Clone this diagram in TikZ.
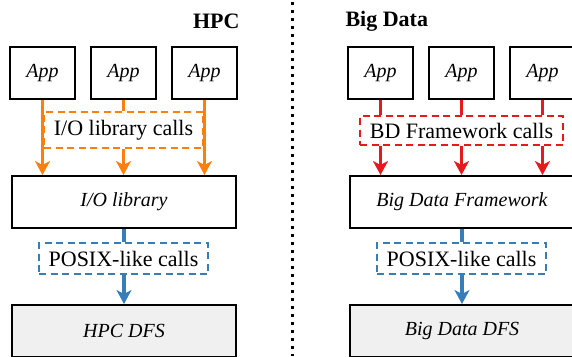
\documentclass[tikz,border=0pt]{standalone}
\usepackage{fontspec}
\setmainfont{Liberation Serif}
\usetikzlibrary{arrows.meta}
\definecolor{corange}{HTML}{FF7F0E}
\definecolor{cred}{HTML}{E41A1C}
\definecolor{cblue}{HTML}{377EB8}
\definecolor{cgray}{HTML}{F0F0F0}
\tikzset{
  solidbox/.style={draw=black, line width=2pt, minimum width=65pt, minimum height=52pt, inner sep=0pt, font=\fontsize{20}{24}\selectfont\itshape},
  widebox/.style={solidbox, minimum width=224pt},
  callbox/.style={draw=#1, line width=2pt, dash pattern=on 7pt off 4.5pt, inner sep=0pt, font=\fontsize{22}{26}\selectfont},
  conn/.style={draw=#1, line width=3.5pt},
  arr/.style={conn=#1, -{Stealth[length=14pt,width=15pt,inset=4pt]}},
  title/.style={font=\fontsize{22}{26}\selectfont\bfseries},
}
\begin{document}
\begin{tikzpicture}[x=1pt,y=-1pt]
\clip (0,0) rectangle (572,356);
\useasboundingbox (0,0) rectangle (572,356);
% separator
\draw[line width=3pt, dash pattern=on 3pt off 5pt] (292,2) -- (292,356);
% ---------- HPC ----------
\node[title, anchor=east] (hpc) at (243,21) {HPC};
\node[solidbox] (a1) at (42.5,73) {App};
\node[solidbox] (a2) at (123.5,73) {App};
\node[solidbox] (a3) at (204.5,73) {App};
\node[callbox=corange, minimum width=159pt, minimum height=36pt] (ioc) at (123.5,130) {I/O library calls};
\node[widebox] (iol) at (124,202) {I/O library};
\node[callbox=cblue, minimum width=169pt, minimum height=31pt] (px1) at (123.5,258.5) {POSIX-like calls};
\node[widebox, fill=cgray] (hdfs) at (124,331) {HPC DFS};
\draw[arr=corange] (a1.south) -- (a1.south |- iol.north);
\draw[arr=corange] (a3.south) -- (a3.south |- iol.north);
\draw[conn=corange] (a2.south) -- (a2.south |- ioc.north);
\draw[arr=corange] (a2.south |- ioc.south) -- (a2.south |- iol.north);
\draw[conn=cblue] (iol.south) -- (iol.south |- px1.north);
\draw[arr=cblue] (iol.south |- px1.south) -- (hdfs.north);
% ---------- Big Data ----------
\node[title, anchor=west] (bd) at (342,21) {Big Data};
\node[solidbox] (b1) at (380.5,73) {App};
\node[solidbox] (b2) at (461.5,73) {App};
\node[solidbox] (b3) at (542.5,73) {App};
\node[callbox=cred, minimum width=203pt, minimum height=29pt] (bdc) at (461.5,130.5) {BD Framework calls};
\node[widebox] (bdf) at (462,202) {Big Data Framework};
\node[callbox=cblue, minimum width=169pt, minimum height=31pt] (px2) at (461.5,258.5) {POSIX-like calls};
\node[widebox, fill=cgray] (bdfs) at (462,331) {Big Data DFS};
\foreach \b in {b1,b2,b3}{
  \draw[conn=cred] (\b.south) -- (\b.south |- bdc.north);
  \draw[arr=cred] (\b.south |- bdc.south) -- (\b.south |- bdf.north);
}
\draw[conn=cblue] (bdf.south) -- (bdf.south |- px2.north);
\draw[arr=cblue] (bdf.south |- px2.south) -- (bdfs.north);
\end{tikzpicture}
\end{document}
